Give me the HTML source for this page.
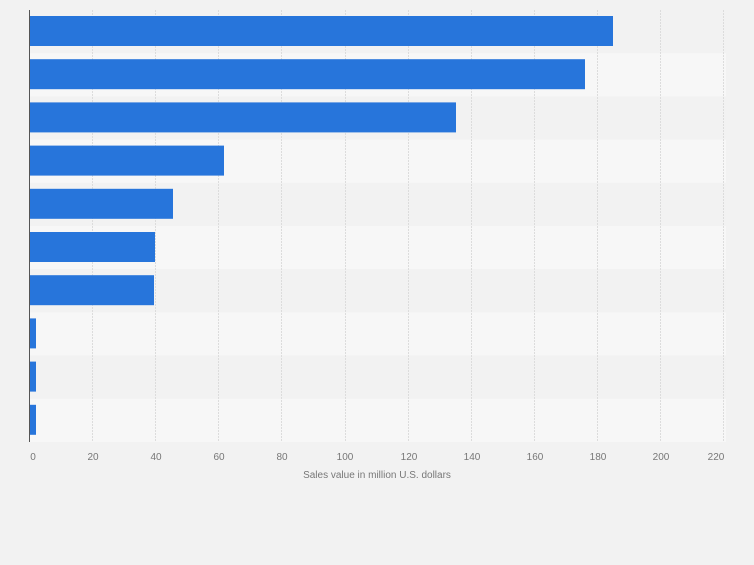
<!DOCTYPE html>
<html><head><style>body{margin:0;background:#f2f2f2}</style></head><body>
<svg width="754" height="560" xmlns="http://www.w3.org/2000/svg" font-family="Liberation Sans, sans-serif">
<rect width="754" height="560" fill="#f2f2f2"/>
<g>
<rect x="30" y="10" width="696" height="43.2" fill="#f2f2f2"/>
<rect x="30" y="53.2" width="696" height="43.2" fill="#f7f7f7"/>
<rect x="30" y="96.4" width="696" height="43.2" fill="#f2f2f2"/>
<rect x="30" y="139.6" width="696" height="43.2" fill="#f7f7f7"/>
<rect x="30" y="182.8" width="696" height="43.2" fill="#f2f2f2"/>
<rect x="30" y="226" width="696" height="43.2" fill="#f7f7f7"/>
<rect x="30" y="269.2" width="696" height="43.2" fill="#f2f2f2"/>
<rect x="30" y="312.4" width="696" height="43.2" fill="#f7f7f7"/>
<rect x="30" y="355.6" width="696" height="43.2" fill="#f2f2f2"/>
<rect x="30" y="398.8" width="696" height="43.2" fill="#f7f7f7"/>
</g>
<g stroke="#dcdcdc" stroke-width="1" stroke-dasharray="2,1">
<line x1="92.5" y1="10" x2="92.5" y2="442"/><line x1="155.5" y1="10" x2="155.5" y2="442"/>
<line x1="218.5" y1="10" x2="218.5" y2="442"/><line x1="281.5" y1="10" x2="281.5" y2="442"/>
<line x1="345.5" y1="10" x2="345.5" y2="442"/><line x1="408.5" y1="10" x2="408.5" y2="442"/>
<line x1="471.5" y1="10" x2="471.5" y2="442"/><line x1="534.5" y1="10" x2="534.5" y2="442"/>
<line x1="597.5" y1="10" x2="597.5" y2="442"/><line x1="660.5" y1="10" x2="660.5" y2="442"/>
<line x1="723.5" y1="10" x2="723.5" y2="442"/>
</g>
<g fill="#2775db">
<rect x="30" y="16" width="583" height="30"/>
<rect x="30" y="59.2" width="555" height="30"/>
<rect x="30" y="102.4" width="426" height="30"/>
<rect x="30" y="145.6" width="194" height="30"/>
<rect x="30" y="188.8" width="143" height="30"/>
<rect x="30" y="232" width="125" height="30"/>
<rect x="30" y="275.2" width="124" height="30"/>
<rect x="30" y="318.4" width="6" height="30"/>
<rect x="30" y="361.6" width="6" height="30"/>
<rect x="30" y="404.8" width="6" height="30"/>
</g>
<line x1="29.5" y1="10" x2="29.5" y2="442" stroke="#555" stroke-width="1"/>
<g fill="#777" font-size="10" text-anchor="middle">
<text x="33" y="460">0</text><text x="93" y="460">20</text><text x="156" y="460">40</text>
<text x="219" y="460">60</text><text x="282" y="460">80</text><text x="345" y="460">100</text>
<text x="409" y="460">120</text><text x="472" y="460">140</text><text x="535" y="460">160</text>
<text x="598" y="460">180</text><text x="661" y="460">200</text><text x="716" y="460">220</text>
<text x="377" y="478">Sales value in million U.S. dollars</text>
</g>
</svg>
</body></html>
